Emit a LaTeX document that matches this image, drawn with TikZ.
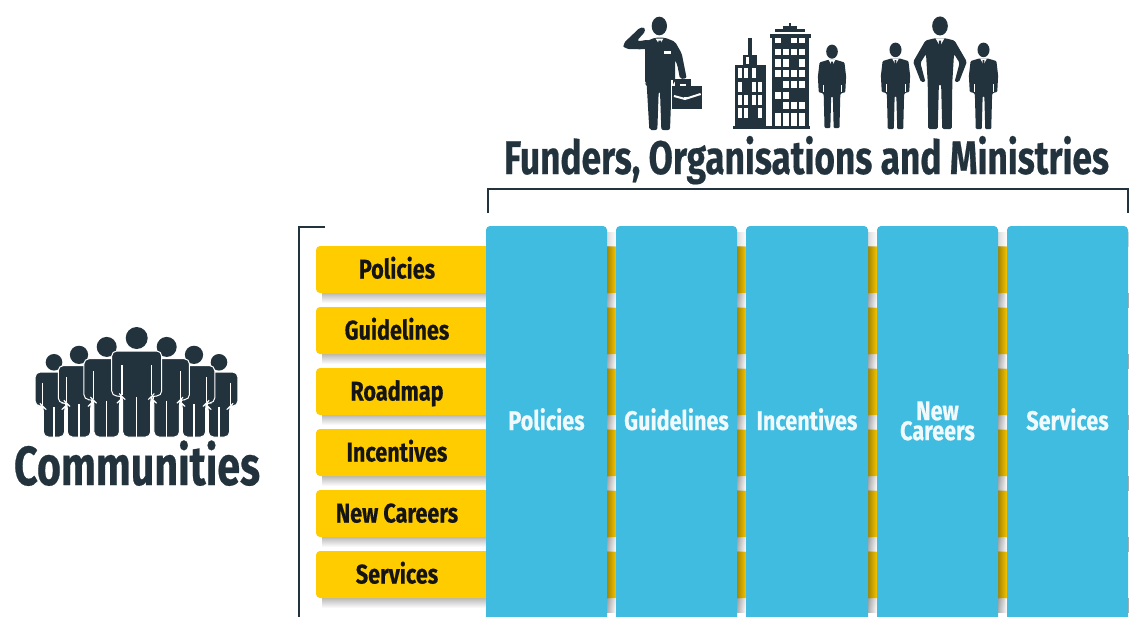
\documentclass[tikz,border=0pt]{standalone}
\usepackage{fontspec}
\usetikzlibrary{calc}
\newfontfamily\lblfont[FakeStretch=0.8,FakeBold=0.4]{Fira Sans Bold}
\newfontfamily\headfont[FakeStretch=0.75,FakeBold=0.4]{Fira Sans Bold}
\definecolor{ink}{HTML}{22333D}
\definecolor{skyb}{HTML}{3FBCE0}
\definecolor{goldy}{HTML}{FFCC00}
\definecolor{goldd}{HTML}{C29C00}
\definecolor{txt}{HTML}{141414}
\tikzset{
  rowlabel/.style={font=\lblfont\fontsize{27}{27}\selectfont,text=txt,inner sep=0pt,anchor=base},
  collabel/.style={font=\lblfont\fontsize{27}{21}\selectfont,text=white!92!skyb,inner sep=0pt,align=center},
  headline/.style={font=\headfont\fontsize{47}{47}\selectfont,text=ink,inner sep=0pt,anchor=base},
  bracketline/.style={draw=ink,line width=2pt},
  gapw/.style={draw=white,line width=1pt}
}
% crowd figure, origin at the feet
\newcommand{\crowdman}[2]{%
 \begin{scope}[shift={(#1,437)},scale=#2]
  \fill[ink] (0,-99) ellipse (11 and 11);
  \filldraw[fill=ink,draw=white,line width=1pt,rounded corners=5pt]
   (-25,-41)--(-25,-86)--(25,-86)--(25,-41)--(15,-41)--(14,-40)--(14,0)--(-14,0)--(-14,-40)--(-15,-41)--cycle;
  \draw[gapw,line width=1.1pt] (-14.7,-72)--(-14.7,-42) (14.7,-72)--(14.7,-42) (0,-40)--(0,1);
 \end{scope}}
% standing suited man: cx, top, height
\newcommand{\suitman}[3]{%
 \begin{scope}[shift={(#1,#2)},scale=#3/100]
  \fill[ink] (0,8) ellipse (7 and 8.5);
  \fill[ink,rounded corners=1pt] (-5,18)--(-15,21)--(-17,38)--(-16,57)--(-11,58)--(-10,60)--(-9,100)--(-2,100)--(-1,62)--(1,62)--(2,100)--(9,100)--(10,60)--(11,58)--(16,57)--(17,38)--(15,21)--(5,18)--cycle;
  \fill[white] (-4,18)--(4,18)--(0,25)--cycle;
  \fill[ink] (-1,20)--(1,20)--(1.2,27)--(0,30)--(-1.2,27)--cycle;
  \draw[white,line width=.4pt] (-11,48)--(-11,57) (11,48)--(11,57);
 \end{scope}}
\begin{document}
\begin{tikzpicture}[x=1pt,y=-1pt]
\useasboundingbox (0,0) rectangle (1129,616);
\clip (0,0) rectangle (1129,616);
% row shadows and strips
\foreach \yy/\nm/\tx in {246/r1/Policies,307/r2/Guidelines,368/r3/Roadmap,429/r4/Incentives,490/r5/New Careers,551/r6/Services}{
  \shade[top color=black!30,bottom color=white] (322,\yy+46) rectangle (1005,\yy+57);
  \fill[goldy,rounded corners=4pt] (316,\yy) rectangle (520,\yy+47);
  \foreach \xa in {607,737,868,998}{
    \shade[left color=goldd!85!black,right color=goldy!85!goldd] (\xa,\yy) rectangle (\xa+9,\yy+47);
  }
  \node[rowlabel] (\nm) at (397,\yy+32.5) {\tx};
}
% blue columns
\foreach \xa/\xb/\nm in {486/607/c1,616/737/c2,746/868/c3,877/998/c4,1007/1128/c5}{
  \foreach \yy in {293,354,415,476,537,598}{
    \shade[left color=black!40,right color=white,opacity=.8] (\xb,\yy) rectangle (\xb+9,\yy+14);
  }
  \shade[left color=black!30,right color=white,opacity=.45] (\xb,232) rectangle (\xb+9,246);
  \fill[skyb,rounded corners=4pt] (\xa,226) rectangle (\xb,640);
  \coordinate (\nm) at ({(\xa+\xb)/2},430);
}
\node[collabel,anchor=base] (l1) at (c1) {Policies};
\node[collabel,anchor=base] (l2) at (c2) {Guidelines};
\node[collabel,anchor=base] (l3) at (c3) {Incentives};
\node[collabel,font=\lblfont\fontsize{27}{21}\selectfont] (l4) at (937.5,421) {New\\[-1pt]Careers};
\node[collabel,anchor=base] (l5) at (c5) {Services};
% brackets
\draw[bracketline] (487.5,213)--(487.5,188.5)--(1127.5,188.5)--(1127.5,213);
\draw[bracketline] (325,226.5)--(298.5,226.5)--(298.5,620);
% headings
\node[headline] (funders) at (806.5,174) {Funders, Organisations and Ministries};
\node[headline,font=\headfont\fontsize{55}{55}\selectfont] (communities) at (137,485) {Communities};
% crowd
\crowdman{54}{.755}
\crowdman{219}{.755}
\crowdman{79}{.83}
\crowdman{194}{.83}
\crowdman{106.7}{.91}
\crowdman{166.7}{.91}
\crowdman{136.7}{1}
% suited men
\suitman{832}{45}{83}
\suitman{895.5}{43}{86}
\suitman{983.5}{43}{86}
% big man hands on hips
\begin{scope}[shift={(940,17)},scale=1.12]
  \fill[ink] (0,8) ellipse (7 and 8.5);
  \fill[ink,rounded corners=1.5pt] (-5,19)--(-13,21)--(-24,40)--(-17,58)--(-13,58)--(-17.5,41)--(-12.5,33)--(-11,58)--(-10.5,100)--(-2,100)--(-1,60)--(1,60)--(2,100)--(10.5,100)--(11,58)--(12.5,33)--(17.5,41)--(13,58)--(17,58)--(24,40)--(13,21)--(5,19)--cycle;
  \fill[white] (-4,19)--(4,19)--(0,26)--cycle;
  \fill[ink] (-1,21)--(1,21)--(1.2,28)--(0,31)--(-1.2,28)--cycle;
\end{scope}
% salute man, drawn in 3x coordinates
\begin{scope}[shift={(600,0)},scale=1/3]
  \fill[ink] (178,78) ellipse (23 and 28);
  % raised arm
  \fill[ink,rounded corners=4pt] (150,118)--(165,145)--(130,148)--(75,147)--(67,133)--(125,78)--(140,90)--(108,125)--cycle;
  % torso and legs
  \fill[ink,rounded corners=2pt] (135,125)--(165,113)--(195,113)--(225,125)--(245,160)--(260,235)--(240,237)--(232,195)--(225,180)--(225,250)--(215,252)--(210,390)--(184,390)--(180,275)--(176,275)--(172,390)--(148,390)--(140,252)--(135,250)--cycle;
  \fill[white] (167,116)--(190,116)--(179,134)--cycle;
  \fill[ink] (175,122)--(183,122)--(184,140)--(179,150)--(174,140)--cycle;
  \fill[white] (193,153) rectangle (212,161);
  % briefcase
  \draw[ink,line width=5pt] (232,258)--(232,243)--(266,243)--(266,258);
  \draw[white,line width=2pt] (215,240)--(215,330);
  \fill[ink] (217,258) rectangle (307,328);
  \draw[white,line width=2pt] (222,288)--(255,297)--(302,282);
  \fill[white] (252,291) rectangle (262,298);
  % buildings
  \fill[ink] (405,195) rectangle (497,385);
  \fill[ink] (430,165) rectangle (472,195);
  \fill[ink] (445,115) rectangle (455,165);
  \fill[ink] (400,378) rectangle (630,386);
  \fill[ink] (515,112) rectangle (628,385);
  \fill[ink] (510,103) rectangle (632,115);
  \fill[ink] (525,88) rectangle (615,97);
  \fill[ink] (550,78) rectangle (590,90);
  \fill[ink] (568,70) rectangle (574,80);
  \fill[white] (497,195) rectangle (515,378);
  \foreach \xx/\yy/\hh in {
    525/113/17,573/113/17,598/113/17,
    525/147/18,550/147/18,573/147/18,598/147/18,
    525/178/22,550/178/22,598/178/22,
    525/210/22,550/210/22,573/210/22,598/210/22,
    550/243/22,573/243/22,598/243/22,
    525/275/22,550/275/22,
    550/307/21,573/307/21,598/307/21,
    525/340/38,550/340/38,573/340/38,598/340/38}{
    \fill[white] (\xx,\yy) rectangle (\xx+17,\yy+\hh);
  }
  \foreach \xx/\yy in {
    413/205,432/205,455/205,
    413/245,455/245,473/245,
    413/285,432/285,455/285,473/285,
    413/325,432/325,473/325}{
    \fill[white] (\xx,\yy) rectangle (\xx+13,\yy+30);
  }
  \fill[white] (437,172) rectangle (447,192);
\end{scope}
\end{tikzpicture}
\end{document}
